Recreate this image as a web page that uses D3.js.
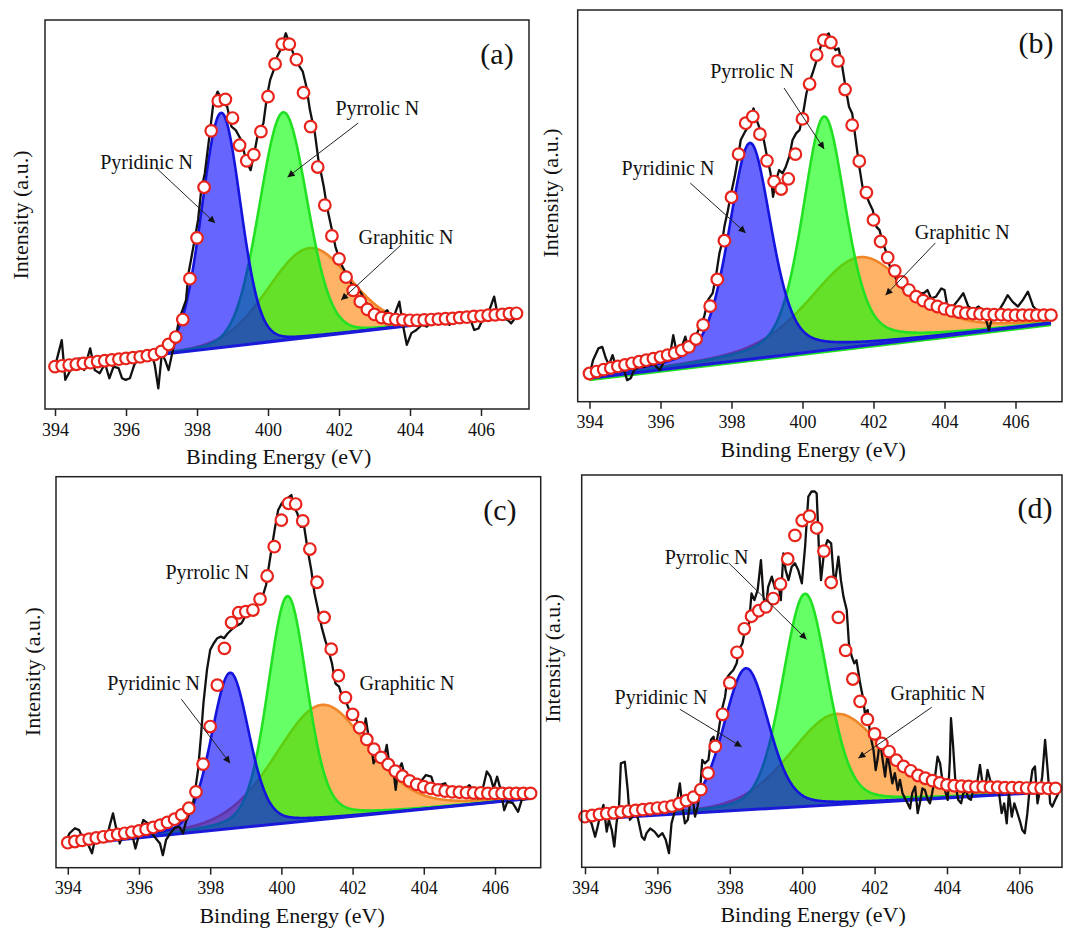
<!DOCTYPE html>
<html>
<head>
<meta charset="utf-8">
<script src="https://cdn.jsdelivr.net/npm/d3@7"></script>
<style>
  body { margin: 0; background: #fff; }
  text { font-family: "Liberation Serif", "Times New Roman", serif; fill: #111; }
</style>
</head>
<body>
<svg id="chart" width="1065" height="929"></svg>
<script>
// binding energies of the fitted envelope points (circles), shared by all panels
var fitE = [394.0,394.2,394.4,394.6,394.8,395.0,395.2,395.4,395.6,395.8,396.0,396.2,396.4,396.6,396.8,397.0,
  397.2,397.4,397.6,397.8,398.0,398.2,398.4,398.6,398.8,399.0,399.2,399.4,399.6,399.8,400.0,400.2,400.4,400.6,
  400.8,401.0,401.2,401.4,401.6,401.8,402.0,402.2,402.4,402.6,402.8,403.0,403.2,403.4,403.6,403.8,404.0,
  404.2,404.4,404.6,404.8,405.0,405.2,405.4,405.6,405.8,406.0,406.2,406.4,406.6,406.8,407.0];
var xTicks = [394, 396, 398, 400, 402, 404, 406];
var peakNames = ["Pyridinic N", "Pyrrolic N", "Graphitic N"];

// ---- panel (a)
var aRawE = [394.0,394.19,394.29,394.39,394.53,394.68,394.82,394.99,395.12,395.26,
  395.41,395.53,395.65,395.79,395.89,395.99,396.11,396.23,396.38,396.52,
  396.72,396.81,396.91,397.01,397.10,397.20,397.30,397.39,397.49,397.59,
  397.69,397.76,397.83,397.93,398.03,398.12,398.22,398.36,398.46,398.58,
  398.70,398.85,398.97,399.09,399.24,399.38,399.51,399.63,399.72,399.87,
  399.97,400.06,400.16,400.26,400.35,400.50,400.64,400.79,400.89,400.98,
  401.08,401.18,401.32,401.42,401.57,401.66,401.78,401.90,402.05,402.20,
  402.34,402.49,402.63,402.78,402.92,403.07,403.21,403.36,403.51,403.70,
  403.80,403.91,404.04,404.18,404.33,404.48,404.67,404.81,404.96,405.11,
  405.25,405.45,405.64,405.81,405.93,406.08,406.22,406.37,406.46,406.61,
  406.75,406.85,406.99];
var aRawI = [10.9,17.7,7.5,9.2,11.7,13.0,10.0,15.6,10.0,9.2,
  11.7,7.9,10.9,10.5,7.9,7.5,7.9,11.3,13.5,13.9,
  14.3,11.3,5.3,14.3,12.6,10.0,14.3,17.7,22.9,25.4,
  28.0,34.9,38.3,43.4,48.6,56.3,60.6,70.9,78.6,81.6,
  79.4,77.7,72.6,71.7,69.2,64.0,61.4,66.6,70.9,73.4,
  80.3,84.6,87.1,90.6,92.3,96.6,93.1,89.7,88.0,86.7,
  82.9,76.9,70.9,64.0,57.2,52.0,46.9,41.7,37.4,34.9,
  32.3,31.4,29.7,27.2,25.4,24.2,24.2,25.4,22.9,27.6,
  21.6,16.5,19.5,20.3,21.6,21.2,23.3,24.2,22.9,21.6,
  22.9,24.2,24.6,20.3,20.7,23.7,25.0,28.9,24.6,23.3,
  22.9,22.0,23.7];
var aFit = [10.9,11.1,11.3,11.5,11.7,11.9,12.2,12.4,12.6,12.8,13.0,13.2,13.4,13.7,14.0,14.8,
  16.6,18.5,23.0,33.5,44.0,57.0,71.5,79.2,79.6,74.8,67.8,63.8,65.4,71.3,80.3,88.7,93.8,93.8,
  89.8,81.3,72.6,62.2,52.4,44.5,38.6,33.9,30.5,27.6,25.6,24.3,23.5,23.2,23.0,22.9,22.8,
  22.8,22.9,23.0,23.1,23.2,23.3,23.5,23.6,23.8,23.9,24.1,24.2,24.3,24.5,24.6];
var aBase = [10.9, 24.6];            // baseline at 394 and 407 eV
var aCenter = [398.68, 400.43, 401.16];
var aHeight = [60.3, 58.6, 22.9];
var aFwhm = [1.28, 1.58, 2.72];

// ---- panel (b)
var bRawE = [394.0,394.10,394.25,394.36,394.46,394.55,394.65,394.75,394.84,394.97,
  395.06,395.16,395.26,395.40,395.54,395.69,395.83,395.98,396.12,396.26,
  396.36,396.45,396.60,396.70,396.79,396.92,397.03,397.13,397.23,397.34,
  397.47,397.56,397.66,397.73,397.80,397.90,397.99,398.09,398.19,398.26,
  398.38,398.52,398.62,398.71,398.81,398.91,399.00,399.10,399.17,399.26,
  399.34,399.44,399.53,399.63,399.72,399.82,399.92,400.01,400.11,400.20,
  400.30,400.40,400.51,400.61,400.74,400.83,400.93,401.02,401.12,401.21,
  401.31,401.40,401.50,401.60,401.69,401.79,401.89,401.98,402.08,402.17,
  402.27,402.37,402.46,402.56,402.70,402.85,402.99,403.13,403.28,403.42,
  403.52,403.62,403.76,403.91,404.00,404.10,404.24,404.39,404.53,404.67,
  404.82,404.96,405.11,405.25,405.39,405.54,405.68,405.78,405.92,406.07,
  406.21,406.35,406.50,406.64,406.83,407.0];
var bRawI = [6.8,10.6,13.6,14.0,11.1,9.4,11.9,8.9,9.4,8.1,
  5.5,6.0,8.1,8.9,8.9,9.4,9.4,8.1,10.6,11.5,
  17.0,12.8,14.0,16.6,13.6,14.9,17.4,19.6,21.7,26.0,
  27.7,31.9,37.9,40.4,44.7,48.9,53.2,57.4,62.6,66.8,
  68.9,71.1,74.9,71.9,69.4,66.8,62.6,58.3,52.3,56.6,
  59.1,58.3,60.0,62.6,66.8,68.5,69.4,73.2,78.7,81.7,
  84.3,87.2,90.6,93.2,94.0,91.1,89.8,90.2,85.5,80.4,
  75.3,73.6,66.8,60.0,54.9,52.8,50.6,48.9,44.7,43.8,
  40.4,37.9,34.5,32.8,30.2,28.5,27.7,27.7,27.7,27.7,
  28.5,26.4,26.8,28.9,28.5,23.4,24.3,26.0,27.7,24.3,
  23.4,24.3,23.0,18.3,23.0,23.4,25.5,27.2,25.5,24.3,
  26.0,28.1,24.3,23.0,22.6,22.1];
var bFit = [7.2,7.7,8.2,8.6,9.0,9.4,9.8,10.2,10.6,11.0,11.4,11.9,12.4,13.1,14.0,16.0,
  19.6,24.4,31.2,41.1,52.2,63.2,71.1,72.8,68.3,61.5,56.2,54.3,56.9,63.2,72.2,81.1,88.5,92.3,
  91.7,87.0,79.7,70.6,61.4,53.4,46.4,40.9,36.8,33.4,30.6,28.5,26.8,25.8,24.9,24.3,23.7,
  23.2,22.9,22.6,22.5,22.4,22.3,22.2,22.2,22.1,22.1,22.1,22.1,22.1,22.1,22.1];
var bBase = [6.0, 20.0];
var bCenter = [398.52, 400.61, 401.60];
var bHeight = [55.2, 59.7, 22.7];
var bFwhm = [1.42, 1.44, 3.3];

// ---- panel (c)
var cRawE = [393.92,394.05,394.20,394.32,394.44,394.56,394.68,394.78,394.93,395.07,
  395.17,395.27,395.37,395.46,395.56,395.69,395.81,395.90,396.00,396.12,
  396.25,396.39,396.51,396.59,396.67,396.76,396.88,397.00,397.13,397.24,
  397.32,397.42,397.52,397.58,397.66,397.74,397.81,397.91,398.00,398.10,
  398.20,398.30,398.39,398.49,398.59,398.69,398.79,398.88,398.98,399.08,
  399.22,399.37,399.47,399.57,399.66,399.81,399.91,400.01,400.10,400.28,
  400.35,400.45,400.54,400.64,400.74,400.84,400.93,401.01,401.13,401.23,
  401.32,401.42,401.52,401.62,401.71,401.81,401.91,402.01,402.11,402.20,
  402.30,402.37,402.45,402.54,402.59,402.69,402.79,402.89,402.96,403.03,
  403.13,403.21,403.28,403.38,403.47,403.62,403.77,403.91,404.06,404.21,
  404.30,404.45,404.60,404.69,404.84,404.99,405.13,405.28,405.38,405.52,
  405.67,405.77,405.87,405.96,406.06,406.16,406.26,406.35,406.50,406.65,
  406.75,406.89,406.99];
var cRawI = [6.2,8.8,10.1,9.6,7.1,6.2,3.7,7.9,7.9,6.6,
  10.5,13.9,9.6,6.2,8.8,10.1,8.4,4.9,8.4,12.2,
  11.3,8.4,7.1,6.2,3.2,7.1,8.8,10.1,10.5,8.8,
  11.8,13.9,16.5,19.9,25.0,33.5,42.0,50.6,55.7,57.4,
  58.7,59.1,58.7,59.9,60.8,61.6,62.1,62.5,64.2,65.5,
  66.8,67.6,69.3,72.3,77.8,86.4,91.5,93.2,94.0,95.3,
  92.3,90.6,87.2,87.2,81.2,76.1,70.2,66.8,61.6,58.2,
  55.7,52.3,47.1,46.3,43.7,42.5,40.3,39.5,37.8,36.1,
  34.4,38.2,33.5,30.1,26.7,28.4,27.5,28.4,31.4,26.7,
  26.3,19.9,25.0,26.7,23.3,22.8,21.6,22.0,23.7,23.3,
  20.7,21.1,21.6,19.9,18.6,20.3,19.9,21.1,19.9,17.7,
  20.7,24.6,23.3,20.3,23.3,19.9,14.7,16.9,16.5,14.3,
  17.3,17.7,18.6];
var cFit = [6.4,6.7,7.0,7.3,7.6,7.9,8.2,8.5,8.8,9.1,9.4,9.8,10.3,10.9,11.6,12.4,
  13.5,15.2,19.4,26.5,36.1,46.7,56.1,62.7,65.2,65.5,65.9,68.7,74.6,82.1,88.9,93.2,93.0,88.7,
  81.5,73.0,64.0,55.9,49.1,43.5,39.2,35.8,32.8,30.3,28.2,26.4,24.7,23.4,22.2,21.3,20.7,
  20.3,19.9,19.6,19.4,19.3,19.2,19.1,19.1,19.0,19.0,19.0,19.0,19.0,19.0,19.0];
var cBase = [5.8, 17.7];
var cCenter = [398.56, 400.17, 401.13];
var cHeight = [39.9, 58.0, 29.3];
var cFwhm = [1.25, 1.30, 3.07];

// ---- panel (d)
var dRawE = [394.09,394.18,394.28,394.35,394.41,394.51,394.60,394.66,394.74,394.81,
  394.87,394.94,394.99,395.10,395.18,395.24,395.31,395.40,395.47,395.57,
  395.64,395.70,395.80,395.92,396.03,396.14,396.23,396.32,396.39,396.49,
  396.56,396.62,396.69,396.76,396.84,396.90,396.97,397.04,397.11,397.18,
  397.24,397.31,397.41,397.48,397.55,397.61,397.68,397.78,397.87,397.94,
  398.01,398.10,398.19,398.25,398.35,398.42,398.53,398.60,398.68,398.77,
  398.86,398.93,398.99,399.06,399.16,399.25,399.34,399.41,399.48,399.54,
  399.62,399.71,399.80,399.89,399.99,400.08,400.17,400.26,400.35,400.40,
  400.46,400.52,400.61,400.70,400.80,400.89,401.00,401.07,401.14,401.23,
  401.29,401.37,401.44,401.50,401.60,401.69,401.73,401.81,401.87,401.97,
  402.03,402.08,402.15,402.21,402.29,402.36,402.43,402.49,402.56,402.64,
  402.70,402.77,402.84,402.91,402.98,403.04,403.12,403.19,403.25,403.32,
  403.39,403.47,403.53,403.59,403.67,403.74,403.81,403.87,403.94,404.02,
  404.08,404.11,404.17,404.24,404.31,404.39,404.45,404.52,404.59,404.66,
  404.73,404.82,404.91,404.98,405.05,405.12,405.19,405.25,405.33,405.42,
  405.51,405.58,405.65,405.71,405.79,405.86,405.92,406.02,406.08,406.15,
  406.22,406.28,406.36,406.43,406.50,406.57,406.63,406.71,406.78,406.85,
  406.91,406.99,407.08];
var dRawI = [12.5,11.2,7.8,10.4,12.9,15.9,9.1,12.1,9.5,5.3,
  11.2,15.5,26.5,26.9,19.7,12.1,12.9,14.6,12.1,7.8,
  7.0,8.7,9.9,9.1,7.8,8.7,7.0,3.6,11.2,14.6,
  18.0,21.4,15.5,11.2,12.1,16.3,18.0,12.9,15.5,19.7,
  27.4,26.5,27.4,32.5,33.3,30.8,34.2,40.1,43.5,48.6,
  49.4,50.3,52.0,55.4,57.1,60.5,62.2,69.8,68.1,70.7,
  78.3,69.0,65.6,71.5,74.1,71.1,72.4,68.1,80.0,75.8,
  73.2,76.6,77.5,75.8,72.4,81.7,94.5,95.8,95.8,95.3,
  81.7,73.2,80.9,83.4,82.6,71.5,79.2,73.2,69.0,65.6,
  57.1,53.7,52.0,52.8,46.9,42.7,39.3,40.1,34.2,29.9,
  24.8,27.4,32.5,28.2,23.1,29.1,24.8,21.4,24.0,19.7,
  22.3,18.9,17.6,16.3,15.0,18.9,20.6,13.8,16.3,20.1,
  19.7,17.2,16.3,18.9,23.1,28.2,26.5,22.3,19.7,17.2,
  27.4,38.0,30.8,20.6,17.2,16.3,18.9,19.7,17.6,17.2,
  19.7,20.6,26.1,21.4,19.7,24.8,22.3,19.7,21.4,20.1,
  13.8,16.3,11.2,18.9,12.9,16.3,14.6,11.6,9.5,8.7,
  13.8,19.7,24.8,25.7,16.3,19.7,23.1,32.5,24.8,16.3,
  15.5,17.2,18.9];
var dFit = [12.9,13.2,13.5,13.7,13.9,14.1,14.3,14.5,14.7,14.9,15.1,15.3,15.6,16.2,17.0,17.9,
  19.8,24.0,30.8,39.0,47.0,54.8,60.8,64.0,65.4,66.4,68.5,72.2,78.6,84.6,88.4,89.5,86.5,80.6,
  72.6,63.7,55.3,48.0,42.3,37.7,34.0,31.6,29.5,27.3,25.7,24.6,23.4,22.7,22.1,21.5,21.0,
  20.8,20.7,20.6,20.5,20.5,20.4,20.4,20.3,20.3,20.3,20.2,20.2,20.2,20.1,20.1];
var dBase = [12.2, 19.3];
var dCenter = [398.45, 400.08, 400.95];
var dHeight = [36.1, 54.2, 23.1];
var dFwhm = [1.47, 1.47, 3.0];

var peakFill = ["#0000ff", "#00ff00", "#ff8000"];
var peakLine = ["#1414dc", "#22e022", "#f0862a"];

var panels = [
  {tag: "(a)", rawE: aRawE, rawI: aRawI, fit: aFit, base: aBase, center: aCenter, height: aHeight, fwhm: aFwhm, eta: 0.1,
   box: {x0: 45, x1: 529, y0: 20, y1: 409}, xDomain: [393.718, 407.352], yLab: [27.7, 215], tagAt: [406.45, 91.5],
   notes: [{at: [396.58, 63.5], from: [396.86, 61.9], to: [398.51, 47.8]},
           {at: [403.08, 77.4], from: [402.54, 73.5], to: [400.55, 59.6]},
           {at: [403.89, 44.2], from: [403.75, 42.2], to: [402.06, 28.0]}]},
  {tag: "(b)", rawE: bRawE, rawI: bRawI, fit: bFit, base: bBase, center: bCenter, height: bHeight, fwhm: bFwhm, eta: 0.4,
   box: {x0: 577.7, x1: 1062, y0: 10, y1: 401.7}, xDomain: [393.668, 407.31], yLab: [557.5, 193], tagAt: [406.58, 91.6],
   baseEdge: true,
   notes: [{at: [396.21, 59.7], from: [396.84, 55.8], to: [398.40, 43.1]},
           {at: [398.58, 84.4], from: [399.48, 80.1], to: [400.61, 64.5]},
           {at: [404.50, 43.3], from: [403.74, 40.5], to: [402.34, 27.2]}]},
  {tag: "(c)", rawE: cRawE, rawI: cRawI, fit: cFit, base: cBase, center: cCenter, height: cHeight, fwhm: cFwhm, eta: 0.25,
   box: {x0: 56, x1: 540.7, y0: 476.7, y1: 867.7}, xDomain: [393.669, 407.284], yLab: [40, 671.7], tagAt: [406.14, 91.5],
   notes: [{at: [396.41, 47.2], from: [397.19, 43.1], to: [398.56, 26.7]},
           {at: [397.92, 75.7]},
           {at: [403.53, 47.2]}]},
  {tag: "(d)", rawE: dRawE, rawI: dRawI, fit: dFit, base: dBase, center: dCenter, height: dHeight, fwhm: dFwhm, eta: 0.25,
   box: {x0: 581.7, x1: 1062, y0: 475, y1: 867.3}, xDomain: [393.909, 407.177], yLab: [560, 658.3], tagAt: [406.43, 91.6],
   notes: [{at: [396.10, 43.5], from: [396.62, 40.3], to: [398.33, 30.7]},
           {at: [397.36, 79.0], from: [397.98, 77.5], to: [400.12, 58.1]},
           {at: [403.75, 44.4], from: [403.58, 40.8], to: [401.55, 27.8]}]}
];

var svg = d3.select("#chart");
svg.append("rect").attr("width", 1065).attr("height", 929).attr("fill", "#fff");

svg.append("defs").append("marker")
  .attr("id", "arrow")
  .attr("viewBox", "0 0 10 10")
  .attr("refX", 10).attr("refY", 5)
  .attr("markerUnits", "userSpaceOnUse")
  .attr("markerWidth", 9).attr("markerHeight", 7)
  .attr("orient", "auto")
  .append("path").attr("d", "M0,0 L10,5 L0,10 Z").attr("fill", "#111");

function pseudoVoigt(e, c, h, w, eta) {
  var t = (e - c) * (e - c) / (w * w);
  return h * ((1 - eta) * Math.exp(-4 * Math.LN2 * t) + eta / (1 + 4 * t));
}

function drawPanel(p) {
  var x = d3.scaleLinear().domain(p.xDomain).range([p.box.x0, p.box.x1]);
  var y = d3.scaleLinear().domain([0, 100]).range([p.box.y1, p.box.y0]);
  var g = svg.append("g");

  var baseAt = function(e) { return p.base[0] + (p.base[1] - p.base[0]) * (e - 394) / 13; };
  var grid = d3.range(394, 407.0001, 0.02);
  var baseLine = d3.line().x(d => x(d)).y(d => y(baseAt(d)));

  // fitted components: graphitic, pyrrolic, pyridinic
  [2, 1, 0].forEach(function(k) {
    var pts = grid.map(function(e) {
      var b = baseAt(e);
      return {e: e, b: b, v: b + pseudoVoigt(e, p.center[k], p.height[k], p.fwhm[k], p.eta)};
    });
    g.append("path")
      .datum(pts)
      .attr("fill", peakFill[k])
      .attr("fill-opacity", 0.6)
      .attr("d", d3.area().x(d => x(d.e)).y0(d => y(d.b)).y1(d => y(d.v)));
    g.append("path")
      .datum(pts)
      .attr("fill", "none")
      .attr("stroke", peakLine[k])
      .attr("stroke-width", 2.6)
      .attr("d", d3.line().x(d => x(d.e)).y(d => y(d.v)));
  });

  // baseline (panel b shows the green component edge just under it)
  if (p.baseEdge) {
    g.append("path")
      .datum([394, 407])
      .attr("fill", "none")
      .attr("stroke", "#22e022")
      .attr("stroke-width", 2)
      .attr("transform", "translate(0, 2)")
      .attr("d", baseLine);
  }
  g.append("path")
    .datum([394, 407])
    .attr("fill", "none")
    .attr("stroke", "#1a1ad8")
    .attr("stroke-width", 3)
    .attr("d", baseLine);

  // raw spectrum
  g.append("path")
    .datum(p.rawE.map((e, i) => [e, p.rawI[i]]))
    .attr("fill", "none")
    .attr("stroke", "#111")
    .attr("stroke-width", 2.3)
    .attr("stroke-linejoin", "round")
    .attr("d", d3.line().x(d => x(d[0])).y(d => y(d[1])));

  // fitted envelope
  g.selectAll(".fit")
    .data(p.fit)
    .enter()
    .append("circle")
    .attr("cx", (d, i) => x(fitE[i]))
    .attr("cy", d => y(d))
    .attr("r", 5.8)
    .attr("fill", "#fff")
    .attr("stroke", "#e8231b")
    .attr("stroke-width", 2.2);

  // frame
  g.append("rect")
    .attr("x", p.box.x0).attr("y", p.box.y0)
    .attr("width", p.box.x1 - p.box.x0).attr("height", p.box.y1 - p.box.y0)
    .attr("fill", "none").attr("stroke", "#222").attr("stroke-width", 1.5);

  var ax = g.append("g")
    .attr("transform", `translate(0, ${p.box.y1})`)
    .call(d3.axisBottom(x).tickValues(xTicks).tickSize(7).tickSizeOuter(0).tickPadding(7).tickFormat(d3.format("d")));
  ax.select(".domain").remove();
  ax.attr("font-size", 18).attr("font-family", "Liberation Serif, serif").attr("color", "#222");
  ax.selectAll("line").attr("stroke-width", 1.5);

  g.append("text")
    .attr("x", x(400.3)).attr("y", p.box.y1 + 55)
    .attr("text-anchor", "middle")
    .attr("font-size", 22)
    .text("Binding Energy (eV)");

  g.append("text")
    .attr("transform", `translate(${p.yLab[0]}, ${p.yLab[1]}) rotate(-90)`)
    .attr("text-anchor", "middle")
    .attr("font-size", 22)
    .text("Intensity (a.u.)");

  g.append("text")
    .attr("x", x(p.tagAt[0])).attr("y", y(p.tagAt[1]))
    .attr("text-anchor", "middle")
    .attr("dominant-baseline", "central")
    .attr("font-size", 30)
    .text(p.tag);

  p.notes.forEach(function(n, k) {
    g.append("text")
      .attr("x", x(n.at[0])).attr("y", y(n.at[1]))
      .attr("text-anchor", "middle")
      .attr("dominant-baseline", "central")
      .attr("font-size", 20)
      .text(peakNames[k]);
    if (n.from) {
      g.append("line")
        .attr("x1", x(n.from[0])).attr("y1", y(n.from[1]))
        .attr("x2", x(n.to[0])).attr("y2", y(n.to[1]))
        .attr("stroke", "#222").attr("stroke-width", 1)
        .attr("marker-end", "url(#arrow)");
    }
  });
}

panels.forEach(drawPanel);
</script>
</body>
</html>
